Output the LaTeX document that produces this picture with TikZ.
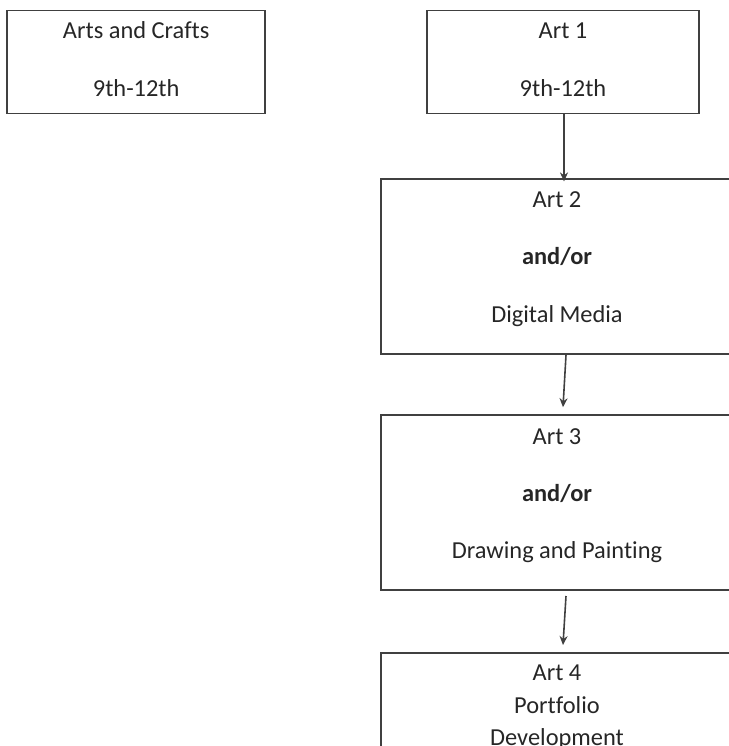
\documentclass[tikz,border=0pt]{standalone}
\usepackage{fontspec}
\setmainfont{Carlito}[Ligatures=NoCommon]
\definecolor{boxgray}{rgb}{0.25, 0.25, 0.25}
\definecolor{textgray}{rgb}{0.15, 0.15, 0.15}
\usepackage{tikz}
\usetikzlibrary{calc}
\usetikzlibrary{positioning}
\usetikzlibrary{arrows.meta}

\begin{document}
\begin{tikzpicture}[
			box/.style={draw=boxgray, line width=0.9pt, rectangle, fill=none, inner sep=0pt},
			courseBox/.style={box, minimum height=51.5pt},
			wideBox/.style={box, minimum height=87.5pt, minimum width=176pt},
			line/.style={inner sep=0pt, anchor=base, text=textgray, font=\fontsize{12.2pt}{14pt}\selectfont},
			arrowStrong/.style={line width=0.8pt, draw=boxgray, ->, >={Stealth[length=4.5pt, width=4pt]}},
			]
			\useasboundingbox (0,0) rectangle (364.5pt,-373pt);
			\clip (0,0) rectangle (364.5pt,-373pt);
			
			% boxes
			\draw node[courseBox, minimum width=136pt] (art1) at (281.5pt,-31pt) {};
			\draw node[courseBox, minimum width=129pt, left=80pt of art1] (crafts) {};
			\draw node[wideBox, xshift=-3pt, below=32pt of art1] (art2) {};
			\draw node[wideBox, below=29.5pt of art2] (art3) {};
			\draw node[wideBox, below=30.5pt of art3] (art4) {};
			
			% texts
			\foreach \t [count=\x] in {Arts and Crafts, 9th-12th}
			{\draw node[line](crafts\x) at ([yshift=-14.3pt-(\x-1)*29pt]crafts.north) {\t};}
			
			\foreach \t [count=\x] in {Art 1, 9th-12th}
			{\draw node[line](art1\x) at ([yshift=-14.5pt-(\x-1)*29pt]art1.north) {\t};}
			
			\foreach \t [count=\x] in {Art 2, \textbf{and/or}, Digital Media}
			{\draw node[line](art2\x) at ([yshift=-14.5pt-(\x-1)*28.7pt]art2.north) {\t};}
			
			\foreach \t [count=\x] in {Art 3, \textbf{and/or}, Drawing and Painting}
			{\draw node[line](art3\x) at ([yshift=-15pt-(\x-1)*28.6pt]art3.north) {\t};}
			
			\foreach \t [count=\x] in {Art 4, Portfolio, Development}
			{\draw node[line](art4\x) at ([yshift=-14.4pt-(\x-1)*16.25pt]art4.north) {\t};}
			
			% Arrow
			\draw [arrowStrong] ([xshift=0.5pt]art1.south) -- ([xshift=0.5pt, yshift=-1.5pt]art1.south |- art2.north);
			\draw [arrowStrong] ([xshift=4.5pt]art2.south) -- ([xshift=3pt, yshift=3.5pt]art3.north);
			\draw [arrowStrong] ([xshift=4.5pt, yshift=-2.5pt]art3.south) -- ([xshift=3pt, yshift=3.5pt]art4.north);
			
		\end{tikzpicture}
\end{document}
